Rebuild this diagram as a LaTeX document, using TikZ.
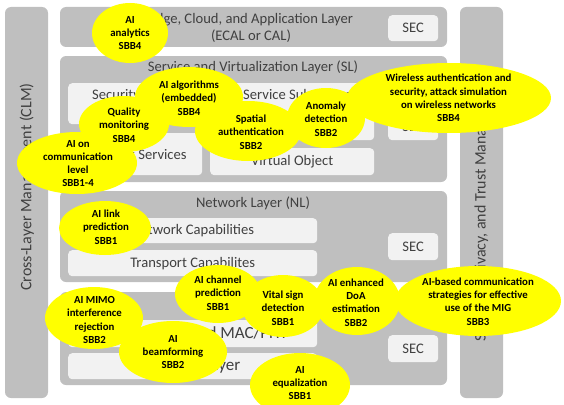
\documentclass[tikz,border=0pt]{standalone}
\usepackage{fontspec}
\setmainfont{Carlito}
\definecolor{laygray}{HTML}{BFBFBF}
\definecolor{boxcol}{HTML}{F2F2F2}
\definecolor{txtgray}{HTML}{404040}
\definecolor{bubyellow}{HTML}{FFFF00}
\begin{document}
\begin{tikzpicture}[x=1pt,y=-1pt,
  layerbox/.style={fill=laygray, rounded corners=6pt},
  innerbox/.style={fill=boxcol, rounded corners=4pt, anchor=north west, inner sep=0pt,
    text=txtgray, font=\fontsize{14.6}{17.5}\selectfont},
  phybox/.style={innerbox, font=\fontsize{17}{20}\selectfont},
  laytext/.style={text=txtgray, inner sep=0pt, align=center, font=\fontsize{14.6}{17}\selectfont},
  sidetext/.style={text=txtgray, inner sep=0pt, rotate=90, font=\fontsize{16}{19}\selectfont},
  bubfill/.style={fill=bubyellow},
  bubtext/.style={text=black, inner sep=0pt, align=center, font=\fontsize{10.8}{13.3}\selectfont\bfseries}]
\useasboundingbox (0,0) rectangle (564,404);
\clip (0,0) rectangle (564,404);
% side bars
\fill[layerbox] (5,7) rectangle (48,398);
\fill[layerbox] (460,7) rectangle (503,398);
\node[sidetext] (clm) at (27,187) {Cross-Layer Management (CLM)};
\node[sidetext] (stm) at (481.5,210) {Security, Privacy, and Trust Management};
% ECAL
\fill[layerbox] (60,7) rectangle (447,47);
\node[laytext] (ecal) at (251,28) {Edge, Cloud, and Application Layer\\(ECAL or CAL)};
\node[innerbox, minimum width=50pt, minimum height=26pt] (sec1) at (388,15) {SEC};
% SL
\fill[layerbox] (60,56) rectangle (447,182);
\node[laytext] (sl) at (253,67) {Service and Virtualization Layer (SL)};
\node[innerbox, minimum width=144pt, minimum height=41pt] (secsub) at (68,83) {};
\node[laytext, anchor=west] (secsubt) at (92,96) {Security Subsystem};
\node[innerbox, minimum width=154pt, minimum height=57pt] (servsub) at (220,83) {};
\node[laytext, anchor=west] (servsubt) at (243,96) {Service Subsystem};
\node[innerbox, minimum width=134pt, minimum height=42pt] (netserv) at (68,133) {Network Services};
\node[innerbox, minimum width=164pt, minimum height=27pt] (vobj) at (210,148) {Virtual Object};
\node[innerbox, minimum width=50pt, minimum height=26pt] (sec2) at (388,114) {SEC};
% NL
\fill[layerbox] (60,191) rectangle (447,282);
\node[laytext] (nl) at (253,203) {Network Layer (NL)};
\node[innerbox, minimum width=249pt, minimum height=25pt] (netcap) at (68,218) {Network Capabilities};
\node[innerbox, minimum width=249pt, minimum height=26pt] (trans) at (68,250) {Transport Capabilites};
\node[innerbox, minimum width=50pt, minimum height=27pt] (sec3) at (388,233) {SEC};
% PHY
\fill[layerbox] (60,292) rectangle (447,385);
\node[phybox, minimum width=249pt, minimum height=27pt] (macphy) at (68,320) {Joint Sensing and MAC/PHY};
\node[phybox, minimum width=249pt, minimum height=26pt] (phyl) at (68,353) {Physical Layer};
\node[innerbox, minimum width=50pt, minimum height=27pt] (sec4) at (388,335) {SEC};
% bubbles
\fill[bubfill] (130,33) ellipse [x radius=38pt, y radius=30pt];
\fill[bubfill] (189,97) ellipse [x radius=54pt, y radius=30pt];
\fill[bubfill] (124,124) ellipse [x radius=45pt, y radius=28pt];
\fill[bubfill] (77,163) ellipse [x radius=60pt, y radius=31pt];
\fill[bubfill] (248,131) ellipse [x radius=53pt, y radius=30pt];
\fill[bubfill] (326,118) ellipse [x radius=39pt, y radius=30pt];
\fill[bubfill] (449,98) ellipse [x radius=102pt, y radius=35pt];
\fill[bubfill] (105,228) ellipse [x radius=46pt, y radius=27pt];
\fill[bubfill] (218,294) ellipse [x radius=43pt, y radius=29pt];
\fill[bubfill] (283,306) ellipse [x radius=41pt, y radius=31pt];
\fill[bubfill] (357,301) ellipse [x radius=43pt, y radius=34pt];
\fill[bubfill] (478,301) ellipse [x radius=83pt, y radius=35pt];
\fill[bubfill] (94,318) ellipse [x radius=49pt, y radius=31pt];
\fill[bubfill] (173,352) ellipse [x radius=54pt, y radius=31pt];
\fill[bubfill] (300,385) ellipse [x radius=50pt, y radius=32pt];
\node[bubtext] (b1) at (130,33) {AI\\analytics\\SBB4};
\node[bubtext] (b2) at (189,98) {AI algorithms\\(embedded)\\SBB4};
\node[bubtext] (b3) at (124,125) {Quality\\monitoring\\SBB4};
\node[bubtext] (b4) at (78,163.5) {AI on\\communication\\level\\SBB1-4};
\node[bubtext] (b5) at (251,132) {Spatial\\authentication\\SBB2};
\node[bubtext] (b6) at (326,119) {Anomaly\\detection\\SBB2};
\node[bubtext] (b7) at (448.5,98) {Wireless authentication and\\security, attack simulation\\on wireless networks\\SBB4};
\node[bubtext] (b8) at (106,227) {AI link\\prediction\\SBB1};
\node[bubtext] (b9) at (218,293) {AI channel\\prediction\\SBB1};
\node[bubtext] (b10) at (283,308) {Vital sign\\detection\\SBB1};
\node[bubtext] (b11) at (356,302.5) {AI enhanced\\DoA\\estimation\\SBB2};
\node[bubtext] (b12) at (478,301.5) {AI-based communication\\strategies for effective\\use of the MIG\\SBB3};
\node[bubtext] (b13) at (94.5,320) {AI MIMO\\interference\\rejection\\SBB2};
\node[bubtext] (b14) at (173,352) {AI\\beamforming\\SBB2};
\node[bubtext] (b15) at (300,383) {AI\\equalization\\SBB1};
\end{tikzpicture}
\end{document}
